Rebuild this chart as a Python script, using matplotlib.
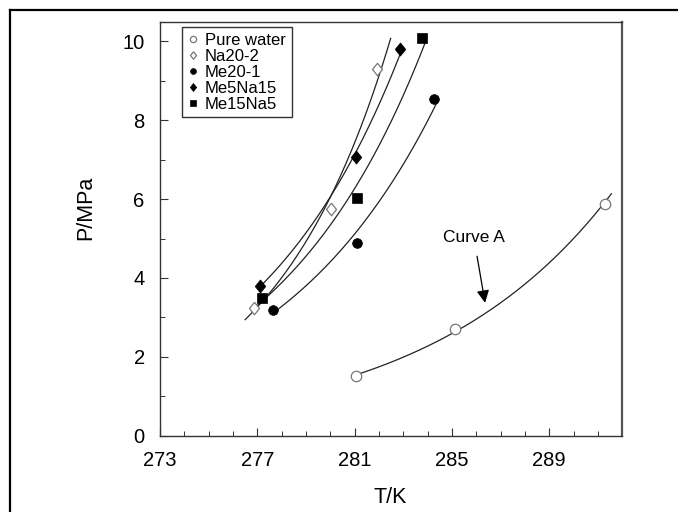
import numpy as np
import matplotlib
matplotlib.use("Agg")
import matplotlib.pyplot as plt
from matplotlib.lines import Line2D

plt.rcParams["font.family"] = ["Liberation Sans", "DejaVu Sans"]

# =========================================================
# DATA  (T in K, P in MPa)
# =========================================================

PURE_T = [281.06, 285.12, 291.29]
PURE_P = [1.52, 2.70, 5.87]

NA20_T = [276.88, 280.02, 281.93]
NA20_P = [3.25, 5.75, 9.31]

ME20_T = [277.66, 281.08, 284.26]
ME20_P = [3.20, 4.90, 8.54]

ME5NA15_T = [277.11, 281.06, 282.88]
ME5NA15_P = [3.80, 7.08, 9.81]

ME15NA5_T = [277.20, 281.11, 283.77]
ME15NA5_P = [3.49, 6.04, 10.09]

LABELS = ["Pure water", "Na20-2", "Me20-1", "Me5Na15", "Me15Na5"]

# temperature span of each fitted curve
FIT_SPAN = {
    "Pure water": (280.95, 291.55),
    "Na20-2": (276.5, 282.48),
    "Me20-1": (277.7, 284.4),
    "Me5Na15": (277.1, 282.9),
    "Me15Na5": (276.95, 283.9),
}

# =========================================================
# STYLE
# =========================================================

diamond = [(0, 1), (0.8, 0), (0, -1), (-0.8, 0), (0, 1)]

STYLE = {
    "Pure water": dict(marker="o", ms=7.5, mfc="white", mec="#777777", mew=0.9),
    "Na20-2": dict(marker=diamond, ms=9, mfc="white", mec="#777777", mew=0.9),
    "Me20-1": dict(marker="o", ms=7, mfc="black", mec="black", mew=0.5),
    "Me5Na15": dict(marker=diamond, ms=9.5, mfc="black", mec="black", mew=0.5),
    "Me15Na5": dict(marker="s", ms=6.5, mfc="black", mec="black", mew=0.5),
}

series = {
    "Pure water": (PURE_T, PURE_P),
    "Na20-2": (NA20_T, NA20_P),
    "Me20-1": (ME20_T, ME20_P),
    "Me5Na15": (ME5NA15_T, ME5NA15_P),
    "Me15Na5": (ME15NA5_T, ME15NA5_P),
}

fig = plt.figure(figsize=(6.78, 5.12), dpi=100)
ax = fig.add_axes([160 / 678, 1 - 435.7 / 512, 462.3 / 678, 414 / 512])

# ---------------- curves + points ----------------
# exponential fit: ln P linear in T
for name in LABELS:
    T, P = series[name]
    coef = np.polyfit(T, np.log(P), 1)
    t0, t1 = FIT_SPAN[name]
    tt = np.linspace(t0, t1, 200)
    ax.plot(tt, np.exp(np.polyval(coef, tt)), color="#222222", lw=0.9, zorder=2)
    ax.plot(T, P, ls="none", zorder=3, **STYLE[name])

# ---------------- annotation ----------------
ax.annotate("Curve A", xy=(286.36, 3.37), xytext=(285.9, 5.02),
            ha="center", va="center", fontsize=12.5,
            arrowprops=dict(arrowstyle="-|>,head_length=0.6,head_width=0.3",
                            color="black", lw=0.9, shrinkA=6, shrinkB=0))

# ---------------- legend ----------------
handles = [Line2D([], [], ls="none", **STYLE[n]) for n in LABELS]
leg = ax.legend(handles, LABELS, loc="upper left", bbox_to_anchor=(0.047, 0.988),
                fontsize=12, markerscale=0.6, handlelength=0.7,
                handletextpad=0.35, labelspacing=0.06, borderpad=0.35,
                borderaxespad=0, fancybox=False, framealpha=1)
leg.get_frame().set_edgecolor("#333333")
leg.get_frame().set_linewidth(1.0)

# ---------------- axes ----------------
ax.set_xlim(273, 292)
ax.set_ylim(0, 10.5)
ax.set_xticks([273, 277, 281, 285, 289])
ax.set_xticks(np.arange(273, 292, 1), minor=True)
ax.set_yticks([0, 2, 4, 6, 8, 10])
ax.set_yticks(np.arange(0, 11, 1), minor=True)
ax.tick_params(which="both", direction="in", top=False, right=False,
               colors="#333333", labelcolor="black", labelsize=14.5)
ax.tick_params(which="major", length=6, width=0.8, pad=11)
ax.tick_params(which="minor", length=3.5, width=0.7)
for side in ["left", "bottom", "top"]:
    ax.spines[side].set_color("#333333")
    ax.spines[side].set_linewidth(1.0)
ax.spines["right"].set_color("#555555")
ax.spines["right"].set_linewidth(1.6)

ax.set_xlabel("T/K", fontsize=15.5)
ax.set_ylabel("P/MPa", fontsize=15.5)
ax.xaxis.set_label_coords(0.497, -0.125)
ax.yaxis.set_label_coords(-0.138, 0.55)

# outer frame lines
fig.add_artist(Line2D([10 / 678, 10 / 678], [0, 1 - 10 / 512], color="black",
                      lw=1.6, transform=fig.transFigure))
fig.add_artist(Line2D([10 / 678, 1], [1 - 10 / 512, 1 - 10 / 512], color="black",
                      lw=1.6, transform=fig.transFigure))

fig.savefig("out.png", dpi=100)
